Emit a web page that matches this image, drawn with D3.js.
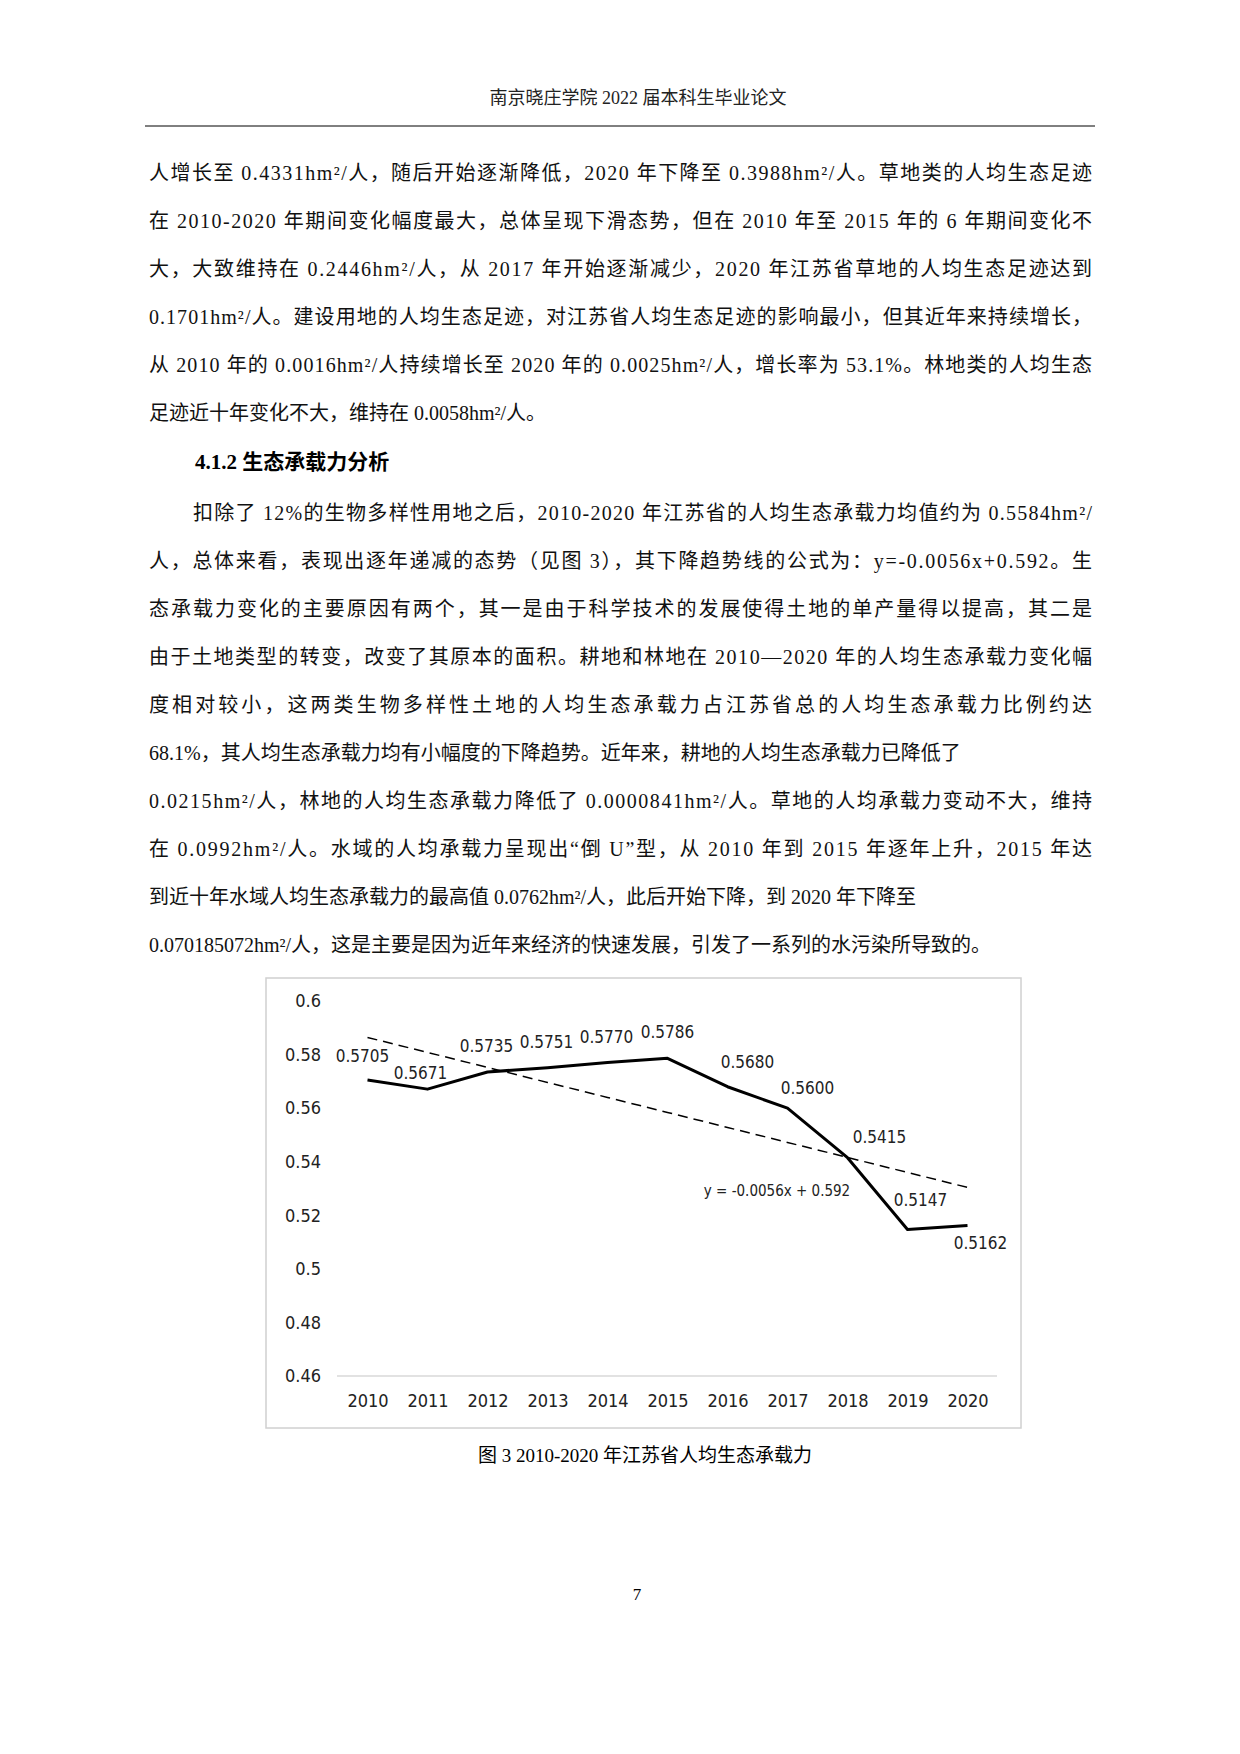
<!DOCTYPE html>
<html>
<head>
<meta charset="utf-8">
<style>
body { margin: 0; background: #fff; }
</style>
</head>
<body>
<script src="https://cdn.jsdelivr.net/npm/d3@7"></script>
<script>

// chart data
var years = ["2010","2011","2012","2013","2014","2015","2016","2017","2018","2019","2020"];
var capacity = [0.5705, 0.5671, 0.5735, 0.5751, 0.5770, 0.5786, 0.5680, 0.5600, 0.5415, 0.5147, 0.5162];
var yTicks = [0.46, 0.48, 0.5, 0.52, 0.54, 0.56, 0.58, 0.6];
var trendSlope = -0.0056, trendIntercept = 0.592;
// label offsets (px) relative to each point
var labelDx = [-5, -7, -1, -1, -1, 0, 20, 20, 32, 13, 13];
var labelDy = [-23, -15, -25, -25, -25, -25, -24, -19, -20, -28, 19];

var header = "南京晓庄学院 2022 届本科生毕业论文";
var para1 = [
 "人增长至 0.4331hm²/人，随后开始逐渐降低，2020 年下降至 0.3988hm²/人。草地类的人均生态足迹",
 "在 2010-2020 年期间变化幅度最大，总体呈现下滑态势，但在 2010 年至 2015 年的 6 年期间变化不",
 "大，大致维持在 0.2446hm²/人，从 2017 年开始逐渐减少，2020 年江苏省草地的人均生态足迹达到",
 "0.1701hm²/人。建设用地的人均生态足迹，对江苏省人均生态足迹的影响最小，但其近年来持续增长，",
 "从 2010 年的 0.0016hm²/人持续增长至 2020 年的 0.0025hm²/人，增长率为 53.1%。林地类的人均生态",
 "足迹近十年变化不大，维持在 0.0058hm²/人。"
];
var heading = "4.1.2 生态承载力分析";
var para2 = [
 "扣除了 12%的生物多样性用地之后，2010-2020 年江苏省的人均生态承载力均值约为 0.5584hm²/",
 "人，总体来看，表现出逐年递减的态势（见图 3），其下降趋势线的公式为：y=-0.0056x+0.592。生",
 "态承载力变化的主要原因有两个，其一是由于科学技术的发展使得土地的单产量得以提高，其二是",
 "由于土地类型的转变，改变了其原本的面积。耕地和林地在 2010—2020 年的人均生态承载力变化幅",
 "度相对较小，这两类生物多样性土地的人均生态承载力占江苏省总的人均生态承载力比例约达",
 "68.1%，其人均生态承载力均有小幅度的下降趋势。近年来，耕地的人均生态承载力已降低了",
 "0.0215hm²/人，林地的人均生态承载力降低了 0.0000841hm²/人。草地的人均承载力变动不大，维持",
 "在 0.0992hm²/人。水域的人均承载力呈现出“倒 U”型，从 2010 年到 2015 年逐年上升，2015 年达",
 "到近十年水域人均生态承载力的最高值 0.0762hm²/人，此后开始下降，到 2020 年下降至",
 "0.070185072hm²/人，这是主要是因为近年来经济的快速发展，引发了一系列的水污染所导致的。"
];
var caption = "图 3 2010-2020 年江苏省人均生态承载力";

var svg = d3.select("body").append("svg")
	.attr("width", 1240)
	.attr("height", 1754);

var serif = "'Liberation Serif', 'Noto Sans CJK SC', serif";
var chartFont = "'DejaVu Sans Condensed', 'Liberation Sans Narrow', 'Noto Sans', sans-serif";

// page text
svg.append("text").attr("x", 638).attr("y", 104).attr("text-anchor", "middle")
	.attr("font-family", serif).attr("font-size", 18).attr("fill", "#222").text(header);
svg.append("line").attr("x1", 145).attr("x2", 1095).attr("y1", 126).attr("y2", 126)
	.attr("stroke", "#000").attr("stroke-width", 1);

function block(lines, y0, indentFirst, lastLines) {
	lines.forEach(function(t, i) {
		var x = (i == 0 && indentFirst) ? 193 : 149;
		var el = svg.append("text").attr("x", x).attr("y", y0 + i * 48)
			.attr("font-family", serif).attr("font-size", 20).attr("fill", "#111").text(t);
		if (lastLines.indexOf(i) < 0)
			el.attr("textLength", 1092 - x).attr("lengthAdjust", "spacing");
	});
}
block(para1, 180, false, [5]);
svg.append("text").attr("x", 195).attr("y", 469).attr("font-family", serif)
	.attr("font-size", 21).attr("font-weight", "bold").text(heading);
block(para2, 520, true, [5, 8, 9]);

svg.append("text").attr("x", 645).attr("y", 1462).attr("text-anchor", "middle")
	.attr("font-family", serif).attr("font-size", 19).text(caption);
svg.append("text").attr("x", 637).attr("y", 1600).attr("text-anchor", "middle")
	.attr("font-family", serif).attr("font-size", 17).text("7");

// chart frame
svg.append("rect").attr("x", 266).attr("y", 978).attr("width", 755).attr("height", 450)
	.attr("fill", "none").attr("stroke", "#d0d0d0").attr("stroke-width", 1.5);

var x = d3.scalePoint().domain(years).range([367.5, 967.5]);
var y = d3.scaleLinear().domain([0.46, 0.6]).range([1376, 1001]);

var yAxis = svg.append("g").attr("transform", "translate(337,0)")
	.call(d3.axisLeft(y).tickValues(yTicks).tickSize(0).tickPadding(16).tickFormat(d3.format("")));
yAxis.select(".domain").remove();
yAxis.selectAll("text").attr("font-family", chartFont).attr("font-size", 18).attr("fill", "#222");

var xAxis = svg.append("g").attr("transform", "translate(0,1376)")
	.call(d3.axisBottom(x).tickSize(0).tickPadding(18));
xAxis.select(".domain").attr("stroke", "#d9d9d9").attr("stroke-width", 1.5).attr("d", "M337,0H997");
xAxis.selectAll("text").attr("font-family", chartFont).attr("font-size", 18).attr("fill", "#222");

// trend line
var trend = years.map(function(d, i) { return trendSlope * (i + 1) + trendIntercept; });
var line = d3.line().x(function(d, i) { return x(years[i]); }).y(function(d) { return y(d); });

svg.append("path").datum(trend).attr("d", line).attr("fill", "none")
	.attr("stroke", "#000").attr("stroke-width", 1.5).attr("stroke-dasharray", "10,6");

svg.append("path").datum(capacity).attr("d", line).attr("fill", "none")
	.attr("stroke", "#000").attr("stroke-width", 3).attr("stroke-linejoin", "round");

svg.append("g").selectAll("text").data(capacity).enter().append("text")
	.attr("x", function(d, i) { return x(years[i]) + labelDx[i]; })
	.attr("y", function(d, i) { return y(d) + labelDy[i]; })
	.attr("text-anchor", "middle").attr("dominant-baseline", "middle")
	.attr("font-family", chartFont).attr("font-size", 17).attr("fill", "#222")
	.text(function(d) { return d.toFixed(4); });

svg.append("text").attr("x", 777).attr("y", 1191).attr("text-anchor", "middle")
	.attr("dominant-baseline", "middle").attr("font-family", chartFont).attr("font-size", 15)
	.attr("fill", "#222").text("y = -0.0056x + 0.592");

</script>
</body>
</html>
